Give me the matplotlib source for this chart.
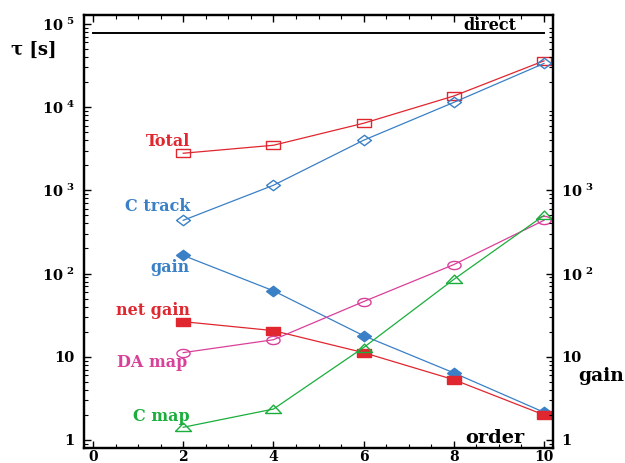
import matplotlib
matplotlib.use("Agg")
import matplotlib.pyplot as plt
import numpy as np
from matplotlib.ticker import FixedLocator, FixedFormatter, MultipleLocator, LogLocator, NullFormatter

plt.rcParams['font.family'] = ['DejaVu Serif']
plt.rcParams['font.weight'] = 'bold'
plt.rcParams['mathtext.fontset'] = 'custom'
plt.rcParams['mathtext.rm'] = 'DejaVu Serif:bold'
plt.rcParams['mathtext.bf'] = 'DejaVu Serif:bold'
plt.rcParams['mathtext.it'] = 'DejaVu Serif:bold:italic'

# data
order = [2, 4, 6, 8, 10]
total = [2790, 3480, 6400, 13600, 36000]
c_track = [436, 1150, 4000, 11400, 33500]
gain = [165, 62, 17.9, 6.4, 2.15]
net_gain = [26.4, 20.6, 11.2, 5.3, 2.0]
da_map = [11.2, 16.0, 46, 128, 436]
c_map = [1.42, 2.35, 12.9, 85, 500]
direct_x = [0, 10]
direct_y = [7.7e4, 7.7e4]

left_ticks = [1, 10, 1e2, 1e3, 1e4, 1e5]
left_labels = ['1', '10', r'$\mathbf{10^{\ 2}}$', r'$\mathbf{10^{\ 3}}$', r'$\mathbf{10^{\ 4}}$', r'$\mathbf{10^{\ 5}}$']
right_ticks = [1, 10, 1e2, 1e3]
right_labels = ['1', '10', r'$\mathbf{10^{\ 2}}$', r'$\mathbf{10^{\ 3}}$']
x_ticks = [0, 2, 4, 6, 8, 10]

RED = '#e0262e'
BLUE = '#3a80c6'
MAG = '#d9409a'
GREEN = '#1aae3c'

rect = [(-1, -0.6), (1, -0.6), (1, 0.6), (-1, 0.6), (-1, -0.6)]
diam = [(-1, 0), (0, 0.75), (1, 0), (0, -0.75), (-1, 0)]
th = np.linspace(0, 2 * np.pi, 40)
ell = list(zip(np.cos(th), 0.62 * np.sin(th)))
tri = [(-1, -0.5), (1, -0.5), (0, 0.55), (-1, -0.5)]

fig = plt.figure(figsize=(6.25, 4.63), dpi=100)
ax = fig.add_axes([84 / 625, 15 / 463, 469 / 625, 433 / 463])
ax.set_yscale('log')
ax.set_xlim(-0.2, 10.2)
ax.set_ylim(0.80, 1.28e5)

lw = 0.9
ax.plot(direct_x, direct_y, color='black', lw=1.4)
ax.plot(order, total, color=RED, lw=lw, marker=rect, ms=10, mfc='none', mec=RED, mew=1.0)
ax.plot(order, c_track, color=BLUE, lw=lw, marker=diam, ms=10, mfc='none', mec=BLUE, mew=1.0)
ax.plot(order, gain, color=BLUE, lw=lw, marker=diam, ms=10, mfc=BLUE, mec=BLUE, mew=1.0)
ax.plot(order, net_gain, color=RED, lw=lw, marker=rect, ms=10, mfc=RED, mec=RED, mew=1.0)
ax.plot(order, da_map, color=MAG, lw=lw, marker=ell, ms=9.5, mfc='none', mec=MAG, mew=1.0)
ax.plot(order, c_map, color=GREEN, lw=lw, marker=tri, ms=11.5, mfc='none', mec=GREEN, mew=1.0)

fs = 11.5
ax.text(2.15, 3890, 'Total', color=RED, ha='right', va='center', fontsize=fs, fontweight='bold')
ax.text(2.15, 641, 'C track', color=BLUE, ha='right', va='center', fontsize=fs, fontweight='bold')
ax.text(2.15, 118, 'gain', color=BLUE, ha='right', va='center', fontsize=fs, fontweight='bold')
ax.text(2.15, 35.8, 'net gain', color=RED, ha='right', va='center', fontsize=fs, fontweight='bold')
ax.text(2.1, 8.5, 'DA map', color=MAG, ha='right', va='center', fontsize=fs, fontweight='bold')
ax.text(2.15, 1.89, 'C map', color=GREEN, ha='right', va='center', fontsize=fs, fontweight='bold')
ax.text(8.8, 9.5e4, 'direct', color='black', ha='center', va='center', fontsize=11.5, fontweight='bold')
ax.text(8.92, 1.06, 'order', color='black', ha='center', va='center', fontsize=14, fontweight='bold')
fig.text(0.962, 1 - 376 / 463, 'gain', ha='center', va='center', fontsize=13.5, fontweight='bold')
fig.text(34 / 625, 1 - 50 / 463, 'τ [s]', ha='center', va='center', fontsize=13, fontweight='bold')

ax.yaxis.set_major_locator(FixedLocator(left_ticks))
ax.yaxis.set_major_formatter(FixedFormatter(left_labels))
ax.yaxis.set_minor_locator(LogLocator(base=10, subs=np.arange(2, 10), numticks=20))
ax.yaxis.set_minor_formatter(NullFormatter())
ax.xaxis.set_major_locator(FixedLocator(x_ticks))
ax.xaxis.set_minor_locator(MultipleLocator(0.5))

ax.tick_params(axis='both', which='both', direction='in', top=True, right=True)
ax.tick_params(axis='both', which='major', length=5, width=1)
ax.tick_params(axis='both', which='minor', length=3, width=0.8)
ax.tick_params(axis='y', which='major', pad=7, labelsize=10.5)
ax.tick_params(axis='x', which='major', pad=1.2, labelsize=10)
for lab in ax.get_xticklabels() + ax.get_yticklabels():
    lab.set_fontweight('bold')

ax2 = ax.twinx()
ax2.set_yscale('log')
ax2.set_ylim(ax.get_ylim())
ax2.yaxis.set_major_locator(FixedLocator(right_ticks))
ax2.yaxis.set_major_formatter(FixedFormatter(right_labels))
ax2.yaxis.set_minor_locator(LogLocator(base=10, subs=np.arange(2, 10), numticks=20))
ax2.yaxis.set_minor_formatter(NullFormatter())
ax2.tick_params(axis='y', which='both', direction='in', right=True, left=False)
ax2.tick_params(axis='y', which='major', length=5, width=1, pad=6, labelsize=10.5)
ax2.tick_params(axis='y', which='minor', length=3, width=0.8)
for lab in ax2.get_yticklabels():
    lab.set_fontweight('bold')

for a in (ax, ax2):
    for s in a.spines.values():
        s.set_linewidth(1.6)

fig.savefig('out.png', dpi=100)
